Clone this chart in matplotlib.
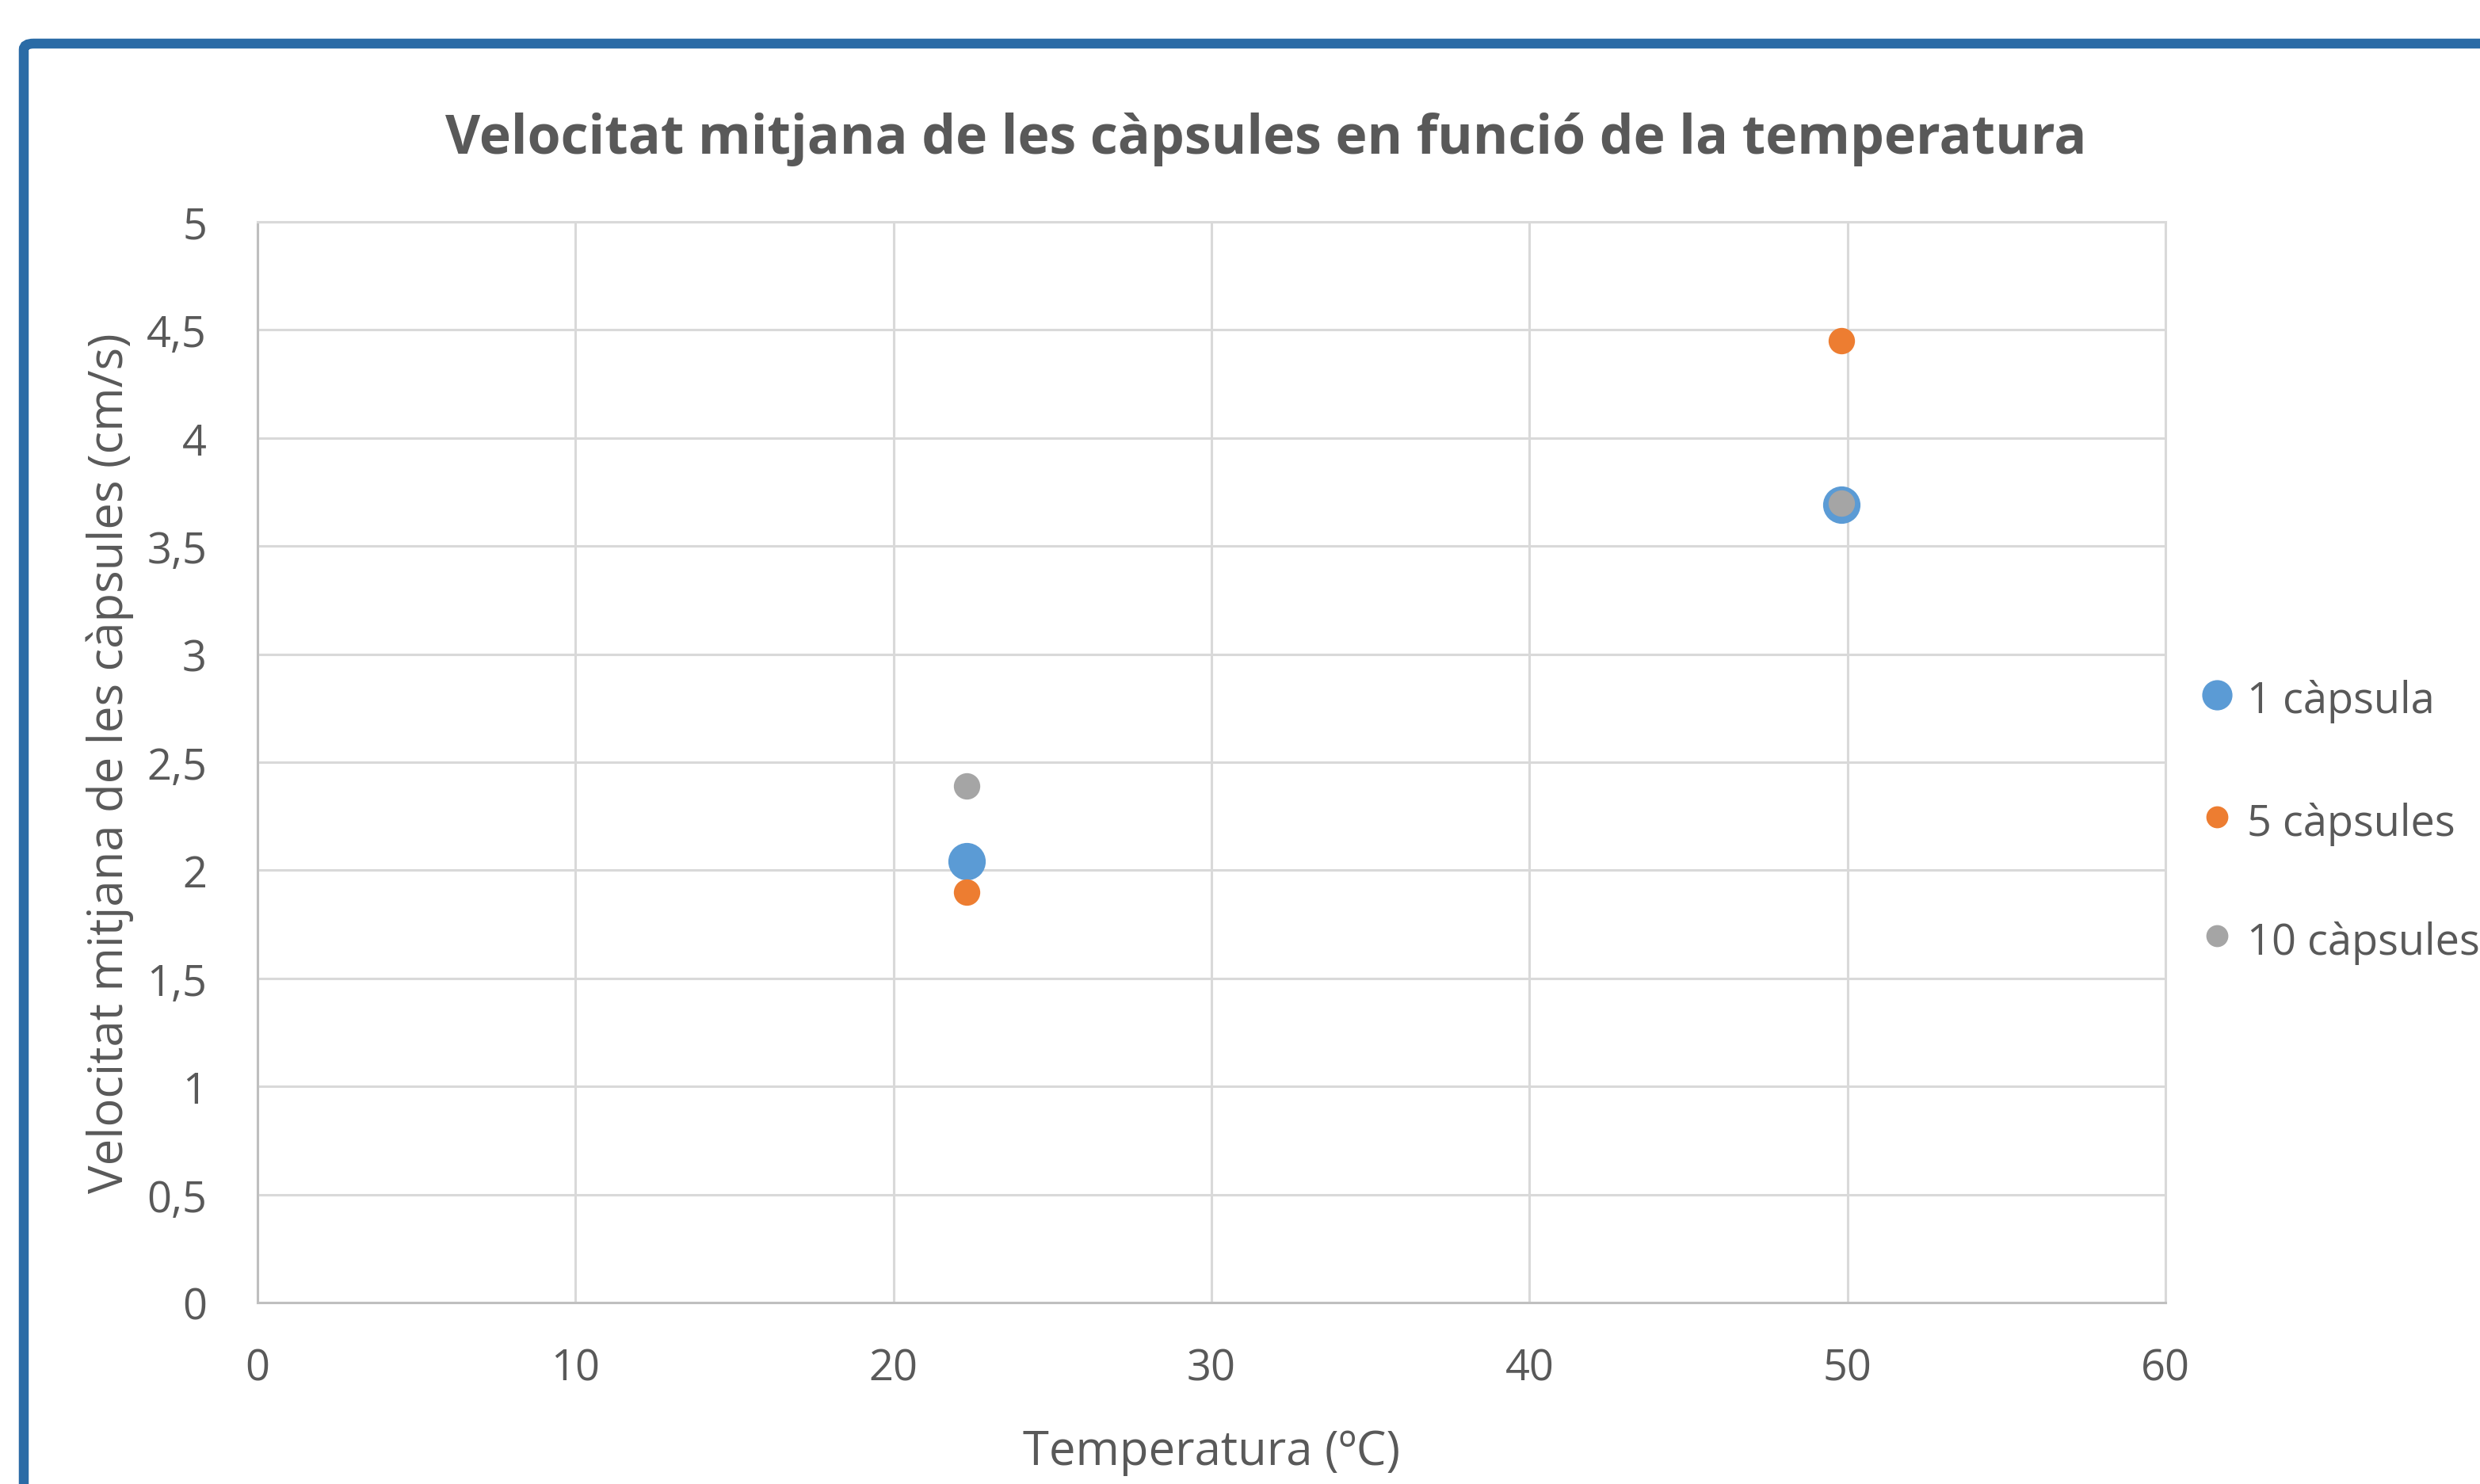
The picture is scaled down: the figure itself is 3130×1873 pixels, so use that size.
import matplotlib
matplotlib.use("Agg")
import matplotlib.pyplot as plt
from matplotlib.patches import FancyBboxPatch
from matplotlib.ticker import FuncFormatter

# Data
temps_1 = [22.3, 49.8]
vel_1 = [2.04, 3.69]
temps_5 = [22.3, 49.8]
vel_5 = [1.90, 4.45]
temps_10 = [22.3, 49.8]
vel_10 = [2.39, 3.70]

series_names = ["1 càpsula", "5 càpsules", "10 càpsules"]
colors = ["#5B9BD5", "#ED7D31", "#A5A5A5"]

TEXT = "#595959"
GRID = "#D9D9D9"

plt.rcParams['font.family'] = ['Open Sans', 'DejaVu Sans']

W, H, DPI = 3130, 1874, 200
fig = plt.figure(figsize=(W / DPI, H / DPI), dpi=DPI)
fig.patch.set_facecolor("white")

# blue frame around the chart (cut off at right and bottom)
frame = FancyBboxPatch((30 / W, -0.2), 1.5, 1.2 - 56 / H,
                       boxstyle="round,pad=0,rounding_size=0.004",
                       transform=fig.transFigure, fill=False,
                       edgecolor="#2A6BA6", linewidth=4.5, clip_on=False)
fig.patches.append(frame)

ax = fig.add_axes([325 / W, 1 - 1645 / H, (2733 - 325) / W, (1645 - 281) / H])

ax.scatter(temps_1, vel_1, s=17 ** 2, color=colors[0], zorder=3, linewidths=0)
ax.scatter(temps_5, vel_5, s=12 ** 2, color=colors[1], zorder=4, linewidths=0)
ax.scatter(temps_10, vel_10, s=12 ** 2, color=colors[2], zorder=5, linewidths=0)

ax.set_xlim(0, 60)
ax.set_ylim(0, 5)
ax.set_xticks(range(0, 61, 10))
ax.set_yticks([i * 0.5 for i in range(11)])
ax.yaxis.set_major_formatter(FuncFormatter(lambda v, p: f"{v:g}".replace(".", ",")))

ax.grid(True, color=GRID, linewidth=1.1)
ax.set_axisbelow(True)
for s in ax.spines.values():
    s.set_color(GRID)
    s.set_linewidth(1.1)
ax.spines["left"].set_color("#BFBFBF")
ax.spines["bottom"].set_color("#BFBFBF")
ax.tick_params(length=0, labelsize=19.5, labelcolor=TEXT)
ax.tick_params(axis="x", pad=20)
ax.tick_params(axis="y", pad=23)

ax.set_xlabel("Temperatura (ºC)", fontsize=21.5, color=TEXT, labelpad=17)
ax.set_ylabel("Velocitat mitjana de les càpsules (cm/s)", fontsize=21.5, color=TEXT, labelpad=6)

fig.text(1598 / W, 1 - 176 / H, "Velocitat mitjana de les càpsules en funció de la temperatura",
         ha="center", va="center", fontsize=24.5, fontweight="bold", color=TEXT)

# legend on the right, partly cut by the image edge
leg_y = [440, 517, 592]
leg_size = [17, 12, 12]
for name, c, yy, ms in zip(series_names, colors, leg_y, leg_size):
    fig.lines.append(plt.Line2D([2798 / W], [1 - (yy * 2 - 2) / H], marker="o", markersize=ms * 0.75,
                                color=c, linestyle="none", transform=fig.transFigure))
    fig.text(2836 / W, 1 - (yy * 2 + 6) / H, name, ha="left", va="center",
             fontsize=19.5, color=TEXT)

fig.savefig("out.png", dpi=DPI)
